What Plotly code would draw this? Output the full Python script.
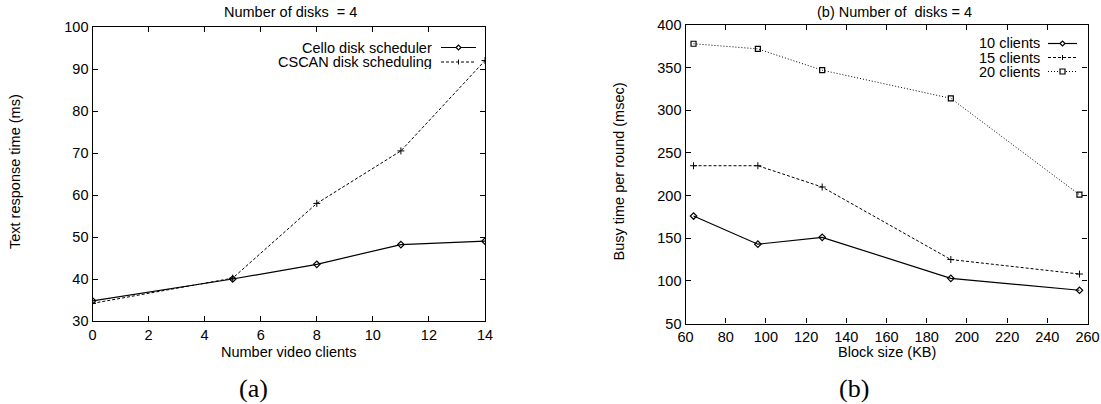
import plotly.graph_objects as go

# Panel (a)
clients = [0, 5, 8, 11, 14]
cello = [34.8, 40.0, 43.5, 48.2, 49.0]
cscan = [34.2, 40.2, 58.0, 70.5, 92.0]

# Panel (b)
block_kb = [64, 96, 128, 192, 256]
busy10 = [176, 143, 151, 103, 89]
busy15 = [235, 235, 210, 125, 108]
busy20 = [378, 372, 347, 314, 201]

W, H = 1101, 404
FONT = "Liberation Sans, Arial, sans-serif"
SERIF = "Liberation Serif, Times New Roman, serif"

def px(x):
    return x / W

def py(y):
    return 1 - y / H

fig = go.Figure()

fig.add_trace(go.Scatter(x=clients, y=cello, mode="lines+markers", xaxis="x", yaxis="y",
                         line=dict(color="black", width=1.2),
                         marker=dict(symbol="diamond-open", size=5, color="black", line=dict(width=1.2)),
                         showlegend=False))
fig.add_trace(go.Scatter(x=clients, y=cscan, mode="lines+markers", xaxis="x", yaxis="y",
                         line=dict(color="black", width=1, dash="3px,2px"),
                         marker=dict(symbol="cross-thin-open", size=5, color="black", line=dict(width=1, color="black")),
                         showlegend=False))

fig.add_trace(go.Scatter(x=block_kb, y=busy10, mode="lines+markers", xaxis="x2", yaxis="y2",
                         line=dict(color="black", width=1.2),
                         marker=dict(symbol="diamond-open", size=5, color="black", line=dict(width=1.2)),
                         showlegend=False))
fig.add_trace(go.Scatter(x=block_kb, y=busy15, mode="lines+markers", xaxis="x2", yaxis="y2",
                         line=dict(color="black", width=1, dash="3px,2px"),
                         marker=dict(symbol="cross-thin-open", size=5, color="black", line=dict(width=1, color="black")),
                         showlegend=False))
fig.add_trace(go.Scatter(x=block_kb, y=busy20, mode="lines+markers", xaxis="x2", yaxis="y2",
                         line=dict(color="black", width=1, dash="1px,2px"),
                         marker=dict(symbol="square-open", size=5, color="black", line=dict(width=1.2)),
                         showlegend=False))

axis_common = dict(showline=True, linecolor="black", linewidth=1.2, mirror="allticks",
                   ticks="inside", ticklen=5, tickcolor="black", tickwidth=1,
                   showgrid=False, zeroline=False, automargin=False,
                   tickfont=dict(family=FONT, size=14.5, color="black"))

fig.update_layout(
    width=W, height=H,
    margin=dict(l=0, r=0, t=0, b=0, pad=0),
    paper_bgcolor="white", plot_bgcolor="white",
    font=dict(family=FONT, color="black"),
    showlegend=False,
    xaxis=dict(domain=[px(92.5), px(485)], range=[0, 14], dtick=2, anchor="y", **axis_common),
    yaxis=dict(domain=[py(321), py(27)], range=[30, 100], dtick=10, anchor="x", **axis_common),
    xaxis2=dict(domain=[px(685.5), px(1087.5)], range=[60, 260], dtick=20, anchor="y2", **axis_common),
    yaxis2=dict(domain=[py(323.5), py(25)], range=[50, 400], dtick=50, anchor="x2", **axis_common),
)

ann = []
def text(x, y, s, size=14.5, xanchor="center", family=FONT, angle=0, height=None):
    d = dict(x=px(x), y=py(y), xref="paper", yref="paper", text=s, showarrow=False,
             xanchor=xanchor, yanchor="middle", textangle=angle,
             font=dict(family=family, size=size, color="black"))
    if height:
        d["height"] = height
    ann.append(d)

text(290.5, 12, "Number of disks&nbsp;&nbsp;= 4", size=14.5)
text(894.5, 12, "(b) Number of&nbsp;&nbsp;disks = 4", size=14.5)
text(288.5, 352, "Number video clients", size=14.5)
text(886.5, 352, "Block size (KB)", size=14.5)
text(15, 172, "Text response time (ms)", size=14.5, angle=-90)
text(618.5, 172, "Busy time per round (msec)", size=14.5, angle=-90)
text(253, 388, "(a)", size=26, family=SERIF)
text(854, 388, "(b)", size=26, family=SERIF)

# Legend texts (gnuplot style: text on the left, sample on the right)
text(434, 47.5, "Cello disk scheduler", xanchor="right", height=14)
text(434, 62, "CSCAN disk scheduling", xanchor="right", height=14)
text(1042, 43.5, "10 clients", xanchor="right", height=14)
text(1042, 57.5, "15 clients", xanchor="right", height=14)
text(1042, 71.5, "20 clients", xanchor="right", height=14)

shapes = []
def sample(x0, x1, y, dash, sym):
    shapes.append(dict(type="line", xref="paper", yref="paper", x0=px(x0), x1=px(x1), y0=py(y), y1=py(y),
                       line=dict(color="black", width=1.2 if dash == "solid" else 1, dash=dash)))
    cx = (x0 + x1) / 2
    r = 2.5
    if sym == "diamond":
        path = f"M {px(cx-r)} {py(y)} L {px(cx)} {py(y-r)} L {px(cx+r)} {py(y)} L {px(cx)} {py(y+r)} Z"
        shapes.append(dict(type="path", xref="paper", yref="paper", path=path,
                           line=dict(color="black", width=1.2), fillcolor="white"))
    elif sym == "cross":
        shapes.append(dict(type="line", xref="paper", yref="paper", x0=px(cx), x1=px(cx), y0=py(y-r), y1=py(y+r),
                           line=dict(color="black", width=1)))
    elif sym == "square":
        shapes.append(dict(type="rect", xref="paper", yref="paper", x0=px(cx-r), x1=px(cx+r), y0=py(y-r), y1=py(y+r),
                           line=dict(color="black", width=1.2), fillcolor="white"))

sample(441, 476, 47.5, "solid", "diamond")
sample(441, 476, 62, "3px,2px", "cross")
sample(1048, 1077, 43.5, "solid", "diamond")
sample(1048, 1077, 57.5, "3px,2px", "cross")
sample(1048, 1077, 71.5, "1px,2px", "square")

fig.update_layout(annotations=ann, shapes=shapes)

fig.write_html("out.html", config={"displayModeBar": False},
               post_script="document.body.style.margin='0px';")
